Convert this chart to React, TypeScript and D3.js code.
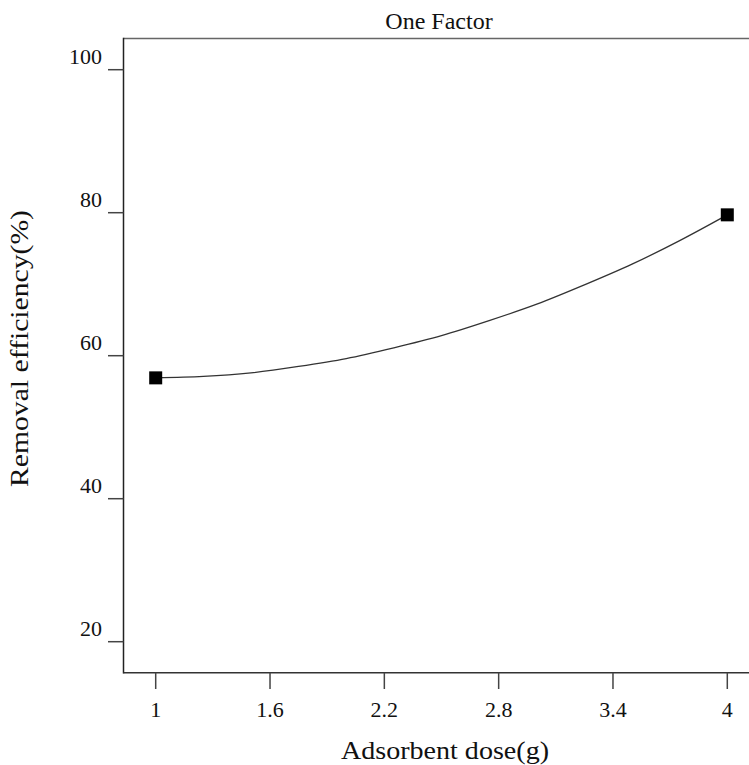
import React from "react";
import * as d3 from "d3";

const xTicks = [1, 1.6, 2.2, 2.8, 3.4, 4];
const xTickLabels = ["1", "1.6", "2.2", "2.8", "3.4", "4"];
const yTicks = [20, 40, 60, 80, 100];
const yTickLabels = ["20", "40", "60", "80", "100"];

// design points (Adsorbent dose, Removal efficiency)
const pointX = [1, 4];
const pointY = [56.9, 79.7];

// fitted curve
const curveX = [1, 1.25, 1.5, 1.75, 2, 2.25, 2.5, 2.75, 3, 3.25, 3.5, 3.75, 4];
const curveY = [56.9, 57.1, 57.6, 58.5, 59.6, 61.1, 62.8, 64.9, 67.2, 69.9, 72.8, 76.1, 79.7];

const title = "One Factor";
const xLabel = "Adsorbent dose(g)";
const yLabel = "Removal efficiency(%)";

export default function App() {
  const W = 749, H = 765;
  const frameL = 123.5, frameT = 38.5, frameB = 672.7, frameR = 760;
  const x = d3.scaleLinear().domain([1, 4]).range([155.7, 727.3]);
  const y = d3.scaleLinear().domain([20, 100]).range([641.7, 69.7]);
  const ts: React.CSSProperties = { fontFamily: '"Liberation Serif", "Times New Roman", Times, "DejaVu Serif", serif' };
  const line = d3
    .line<number>()
    .x((_, i) => x(curveX[i]))
    .y((d) => y(d))
    .curve(d3.curveMonotoneX);
  const sq = 13;
  return (
    <svg
      width={W}
      height={H}
      style={{ position: "absolute", left: 0, top: 0, background: "#fff" }}
    >
      <rect x={0} y={0} width={W} height={H} fill="#fff" />
      {/* frame */}
      <line x1={frameL} y1={frameT} x2={frameR} y2={frameT} stroke="#666" strokeWidth={1.5} />
      <line x1={frameL} y1={frameT - 0.75} x2={frameL} y2={frameB + 0.75} stroke="#222" strokeWidth={1.5} />
      <line x1={frameL} y1={frameB} x2={frameR} y2={frameB} stroke="#333" strokeWidth={1.5} />
      {/* y ticks */}
      {yTicks.map((t, i) => (
        <g key={"y" + t}>
          <line x1={108} x2={frameL} y1={y(t)} y2={y(t)} stroke="#444" strokeWidth={1.5} />
          <text x={102} y={y(t) - 6} textAnchor="end" fontSize={22} fill="#111" style={ts}>
            {yTickLabels[i]}
          </text>
        </g>
      ))}
      {/* x ticks */}
      {xTicks.map((t, i) => (
        <g key={"x" + t}>
          <line x1={x(t)} x2={x(t)} y1={frameB} y2={689} stroke="#444" strokeWidth={1.5} />
          <text x={x(t)} y={717} textAnchor="middle" fontSize={22} fill="#111" style={ts}>
            {xTickLabels[i]}
          </text>
        </g>
      ))}
      {/* curve */}
      <path d={line(curveY) || ""} fill="none" stroke="#333" strokeWidth={1.3} />
      {/* points */}
      {pointX.map((px, i) => (
        <rect
          key={"p" + i}
          x={x(px) - sq / 2}
          y={y(pointY[i]) - sq / 2}
          width={sq}
          height={sq}
          fill="#000"
        />
      ))}
      {/* titles */}
      <text x={439} y={29} textAnchor="middle" fontSize={24} fill="#111" style={ts}>
        {title}
      </text>
      <text
        x={445}
        y={759}
        textAnchor="middle"
        fontSize={26}
        fill="#111"
        style={ts}
        textLength={208}
        lengthAdjust="spacingAndGlyphs"
      >
        {xLabel}
      </text>
      <text
        transform={`translate(28,348.5) rotate(-90)`}
        textAnchor="middle"
        fontSize={26}
        fill="#111"
        style={ts}
        textLength={277}
        lengthAdjust="spacingAndGlyphs"
      >
        {yLabel}
      </text>
    </svg>
  );
}
